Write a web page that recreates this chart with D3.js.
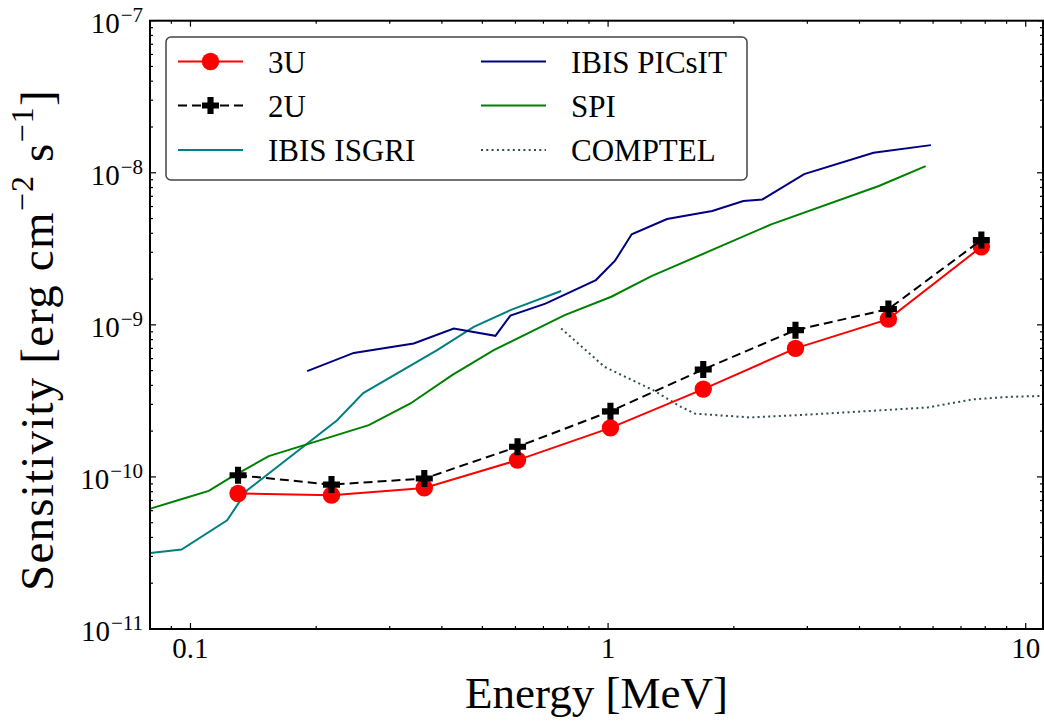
<!DOCTYPE html>
<html>
<head>
<meta charset="utf-8">
<script src="https://cdn.jsdelivr.net/npm/d3@7"></script>
<style>
  body { margin: 0; background: #fff; }
  svg { font-family: "Liberation Serif", "DejaVu Serif", serif; }
</style>
</head>
<body>
<svg id="chart" width="1044" height="721"></svg>
<script>
// energies in MeV, sensitivities in erg cm^-2 s^-1
var energyCube = [0.130, 0.2176, 0.363, 0.607, 1.013, 1.69, 2.81, 4.69, 7.83];
var sens3U = [7.78e-11, 7.59e-11, 8.47e-11, 1.29e-10, 2.10e-10, 3.78e-10, 7.0e-10, 1.09e-9, 3.26e-9];
var sens2U = [1.026e-10, 8.9e-11, 9.76e-11, 1.58e-10, 2.70e-10, 5.09e-10, 9.23e-10, 1.27e-9, 3.61e-9];

var isgriE = [0.0802, 0.0952, 0.1224, 0.1367, 0.2245, 0.2592, 0.3896, 0.4768, 0.5835, 0.772];
var isgriS = [3.16e-11, 3.33e-11, 5.19e-11, 8.17e-11, 2.36e-10, 3.56e-10, 6.82e-10, 9.7e-10, 1.25e-9, 1.67e-9];

var picsitE = [0.1903, 0.246, 0.3424, 0.427, 0.5373, 0.5835, 0.708, 0.935, 1.039, 1.139, 1.384, 1.775, 2.108, 2.341, 2.948, 4.32, 5.93];
var picsitS = [4.96e-10, 6.54e-10, 7.55e-10, 9.46e-10, 8.47e-10, 1.15e-9, 1.38e-9, 1.97e-9, 2.64e-9, 3.94e-9, 4.96e-9, 5.6e-9, 6.52e-9, 6.68e-9, 9.8e-9, 1.355e-8, 1.52e-8];

var spiE = [0.0802, 0.0946, 0.1106, 0.1235, 0.154, 0.2673, 0.3363, 0.4231, 0.5323, 0.787, 1.018, 1.27, 1.81, 2.458, 4.45, 5.76];
var spiS = [6.19e-11, 7.10e-11, 8.09e-11, 9.76e-11, 1.37e-10, 2.19e-10, 3.04e-10, 4.67e-10, 6.82e-10, 1.16e-9, 1.53e-9, 2.09e-9, 3.18e-9, 4.58e-9, 8.18e-9, 1.107e-8];

var comptelE = [0.772, 0.981, 1.282, 1.494, 1.613, 2.191, 3.092, 5.81, 7.45, 9.04, 11.5];
var comptelS = [9.47e-10, 5.29e-10, 3.72e-10, 2.89e-10, 2.61e-10, 2.46e-10, 2.58e-10, 2.86e-10, 3.23e-10, 3.36e-10, 3.42e-10];

var xTicks = [0.1, 1, 10];
var xTickLabels = ["0.1", "1", "10"];
var yTicks = [1e-11, 1e-10, 1e-9, 1e-8, 1e-7];
var yTickExps = ["\u221211", "\u221210", "\u22129", "\u22128", "\u22127"];

var plotLeft = 150, plotRight = 1043, plotTop = 20.7, plotBottom = 629;
var svg = d3.select("#chart");

var x = d3.scaleLog().domain([0.08, 11]).range([plotLeft, plotRight]);
var y = d3.scaleLog().domain([1e-11, 1e-7]).range([plotBottom, plotTop]);

svg.append("defs").append("clipPath").attr("id", "plotclip")
  .append("rect").attr("x", plotLeft).attr("y", plotTop)
  .attr("width", plotRight - plotLeft).attr("height", plotBottom - plotTop);

function zip(xs, ys) {
  return xs.map(function (d, i) { return [d, ys[i]]; });
}

var line = d3.line()
  .x(function (d) { return x(d[0]); })
  .y(function (d) { return y(d[1]); });

var plot = svg.append("g").attr("clip-path", "url(#plotclip)");

var instruments = [
  { name: "IBIS ISGRI", e: isgriE, s: isgriS, color: "#008080", dash: null },
  { name: "IBIS PICsIT", e: picsitE, s: picsitS, color: "#000080", dash: null },
  { name: "SPI", e: spiE, s: spiS, color: "#008000", dash: null },
  { name: "COMPTEL", e: comptelE, s: comptelS, color: "#2f4f4f", dash: "2,3.3" }
];

instruments.forEach(function (ins) {
  plot.append("path")
    .datum(zip(ins.e, ins.s))
    .attr("d", line)
    .attr("fill", "none")
    .attr("stroke", ins.color)
    .attr("stroke-width", 2)
    .attr("stroke-dasharray", ins.dash);
});

function plusPath(h) {
  var a = h * 0.36;
  return "M" + (-a) + "," + (-h) + "H" + a + "V" + (-a) + "H" + h + "V" + a + "H" + a +
    "V" + h + "H" + (-a) + "V" + a + "H" + (-h) + "V" + (-a) + "H" + (-a) + "Z";
}

// 3U
plot.append("path")
  .datum(zip(energyCube, sens3U))
  .attr("d", line)
  .attr("fill", "none")
  .attr("stroke", "#ff0000")
  .attr("stroke-width", 2);
plot.selectAll("circle.u3")
  .data(zip(energyCube, sens3U))
  .join("circle")
  .attr("class", "u3")
  .attr("cx", function (d) { return x(d[0]); })
  .attr("cy", function (d) { return y(d[1]); })
  .attr("r", 8.7)
  .attr("fill", "#ff0000");

// 2U
plot.append("path")
  .datum(zip(energyCube, sens2U))
  .attr("d", line)
  .attr("fill", "none")
  .attr("stroke", "#000")
  .attr("stroke-width", 2)
  .attr("stroke-dasharray", "9,5");
plot.selectAll("path.u2")
  .data(zip(energyCube, sens2U))
  .join("path")
  .attr("class", "u2")
  .attr("d", plusPath(8.5))
  .attr("transform", function (d) { return "translate(" + x(d[0]) + "," + y(d[1]) + ")"; })
  .attr("fill", "#000");

// ticks, inward on all four sides
function minorTicks(scale) {
  var out = [];
  var dom = scale.domain();
  var lo = Math.floor(Math.log10(dom[0])), hi = Math.ceil(Math.log10(dom[1]));
  for (var p = lo; p <= hi; p++) {
    for (var m = 2; m <= 9; m++) {
      var v = m * Math.pow(10, p);
      if (v >= dom[0] && v <= dom[1]) out.push(v);
    }
  }
  return out;
}

var ticksG = svg.append("g").attr("stroke", "#000").attr("stroke-width", 1.2);
xTicks.forEach(function (t) {
  ticksG.append("line").attr("x1", x(t)).attr("x2", x(t)).attr("y1", plotBottom).attr("y2", plotBottom - 6);
  ticksG.append("line").attr("x1", x(t)).attr("x2", x(t)).attr("y1", plotTop).attr("y2", plotTop + 6);
});
minorTicks(x).forEach(function (t) {
  ticksG.append("line").attr("x1", x(t)).attr("x2", x(t)).attr("y1", plotBottom).attr("y2", plotBottom - 3);
  ticksG.append("line").attr("x1", x(t)).attr("x2", x(t)).attr("y1", plotTop).attr("y2", plotTop + 3);
});
yTicks.forEach(function (t) {
  ticksG.append("line").attr("y1", y(t)).attr("y2", y(t)).attr("x1", plotLeft).attr("x2", plotLeft + 6);
  ticksG.append("line").attr("y1", y(t)).attr("y2", y(t)).attr("x1", plotRight).attr("x2", plotRight - 6);
});
minorTicks(y).forEach(function (t) {
  ticksG.append("line").attr("y1", y(t)).attr("y2", y(t)).attr("x1", plotLeft).attr("x2", plotLeft + 3);
  ticksG.append("line").attr("y1", y(t)).attr("y2", y(t)).attr("x1", plotRight).attr("x2", plotRight - 3);
});

svg.append("rect")
  .attr("x", plotLeft).attr("y", plotTop)
  .attr("width", plotRight - plotLeft).attr("height", plotBottom - plotTop)
  .attr("fill", "none").attr("stroke", "#000").attr("stroke-width", 2);

// tick labels
svg.selectAll("text.xt")
  .data(xTicks)
  .join("text")
  .attr("class", "xt")
  .attr("x", function (d) { return x(d); })
  .attr("y", plotBottom + 29)
  .attr("text-anchor", "middle")
  .attr("font-size", 29)
  .text(function (d, i) { return xTickLabels[i]; });

var yt = svg.selectAll("text.yt")
  .data(yTicks)
  .join("text")
  .attr("class", "yt")
  .attr("x", plotLeft - 7)
  .attr("y", function (d) { return y(d) + 12; })
  .attr("text-anchor", "end")
  .attr("font-size", 29);
yt.append("tspan").text("10");
yt.append("tspan")
  .attr("dx", 1)
  .attr("dy", -11)
  .attr("font-size", 21)
  .text(function (d, i) { return yTickExps[i]; });

// axis labels
svg.append("text")
  .attr("x", (plotLeft + plotRight) / 2)
  .attr("y", 708)
  .attr("text-anchor", "middle")
  .attr("font-size", 45)
  .text("Energy [MeV]");

var yl = svg.append("text")
  .attr("transform", "translate(53,340) rotate(-90)")
  .attr("text-anchor", "middle")
  .attr("font-size", 47)
  .attr("letter-spacing", 1.2);
yl.append("tspan").text("Sensitivity [erg cm");
yl.append("tspan").attr("dy", -20).attr("font-size", 32).text("\u22122");
yl.append("tspan").attr("dy", 20).text(" s");
yl.append("tspan").attr("dy", -20).attr("font-size", 32).text("\u22121");
yl.append("tspan").attr("dy", 20).text("]");

// legend
var legend = svg.append("g");
legend.append("rect")
  .attr("x", 166).attr("y", 37)
  .attr("width", 581).attr("height", 143)
  .attr("rx", 5)
  .attr("fill", "#fff")
  .attr("stroke", "#444")
  .attr("stroke-width", 1.5);

var legendItems = [
  { name: "3U", color: "#ff0000", dash: null, marker: "circle" },
  { name: "2U", color: "#000", dash: "9,5", marker: "plus" },
  { name: "IBIS ISGRI", color: "#008080", dash: null },
  { name: "IBIS PICsIT", color: "#000080", dash: null },
  { name: "SPI", color: "#008000", dash: null },
  { name: "COMPTEL", color: "#2f4f4f", dash: "2,3.3" }
];
var colX = [178, 481];
var rowY = [61.5, 105.5, 150];

legendItems.forEach(function (it, i) {
  var cx = colX[Math.floor(i / 3)], cy = rowY[i % 3];
  var g = legend.append("g");
  g.append("line")
    .attr("x1", cx).attr("x2", cx + 65)
    .attr("y1", cy).attr("y2", cy)
    .attr("stroke", it.color).attr("stroke-width", 2)
    .attr("stroke-dasharray", it.dash);
  if (it.marker === "circle") {
    g.append("circle").attr("cx", cx + 32.5).attr("cy", cy).attr("r", 8.7).attr("fill", it.color);
  } else if (it.marker === "plus") {
    g.append("path").attr("d", plusPath(8.5))
      .attr("transform", "translate(" + (cx + 32.5) + "," + cy + ")")
      .attr("fill", it.color);
  }
  g.append("text")
    .attr("x", cx + 90)
    .attr("y", cy + 11)
    .attr("font-size", 31)
    .text(it.name);
});
</script>
</body>
</html>
